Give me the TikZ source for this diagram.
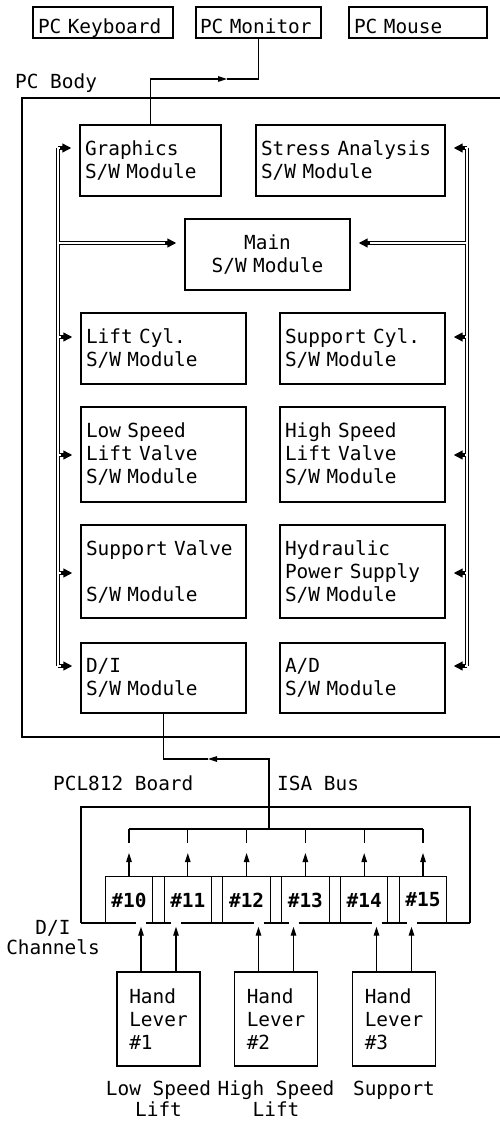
\documentclass[tikz,border=0pt]{standalone}
\usepackage{fontspec}
\usetikzlibrary{arrows.meta,positioning}
\newfontfamily\mono{DejaVu Sans Mono}
\newcommand\dfont{\mono\fontsize{19.4}{23}\selectfont}
\newcommand\chfont{\mono\bfseries\fontsize{19.4}{23}\selectfont}

\tikzset{
  wire/.style={line width=1.1pt},
  swbox/.style={draw, line width=1.2pt, font=\dfont, align=left, inner xsep=5pt, inner ysep=0pt},
  pcbox/.style={swbox, text height=27pt, text depth=4pt},
  txt/.style={font=\dfont, inner sep=0pt},
  busout/.style={line width=4pt, line cap=square},
  busin/.style={line width=1.6pt, line cap=square, white},
  busarrow/.style={busout, -{Triangle[length=9pt,width=8.5pt]}, shorten >=8pt},
  busgap/.style={busin, shorten >=19pt},
}

\begin{document}
\begin{tikzpicture}[x=1pt,y=-1pt,>={Triangle[length=9pt,width=5.5pt]}]
    \useasboundingbox (0,0) rectangle (500,1123);
    % PC peripherals
    \node[pcbox,text width=130pt] (kbd) at (103,22.5) {PC Keyboard};
    \node[pcbox,inner xsep=4pt,text width=117pt] (mon) at (258.5,22.5) {PC Monitor};
    \node[pcbox,text width=128pt] (mouse) at (418,22.5) {PC Mouse};
    \node[txt,anchor=west] (body) at (15,83) {PC Body};
    % PC body
    \draw[line width=1.8pt] (500,98) -- (22,98) -- (22,737) -- (500,737);
    % S/W modules
    \node[swbox,text width=131pt,minimum height=71pt] (graph) at (150.5,160.5) {Graphics\\S/W Module};
    \node[swbox,text width=179pt,minimum height=71pt] (stress) at (350.5,160.5) {Stress Analysis\\S/W Module};
    \node[swbox,align=center,text width=155pt,minimum height=71pt] (main) at (267.5,254.5) {Main\\S/W Module};
    \node[swbox,text width=155pt,minimum height=71pt] (lift) at (163.5,348.5) {Lift Cyl.\\S/W Module};
    \node[swbox,text width=155pt,minimum height=71pt] (suppcyl) at (362.5,348.5) {Support Cyl.\\S/W Module};
    \node[swbox,text width=155pt,minimum height=95pt] (lowsp) at (163.5,454.5) {Low Speed\\Lift Valve\\S/W Module};
    \node[swbox,text width=155pt,minimum height=95pt] (highsp) at (362.5,454.5) {High Speed\\Lift Valve\\S/W Module};
    \node[swbox,text width=155pt,minimum height=93pt] (suppv) at (163.5,571.5) {Support Valve\\\mbox{}\\S/W Module};
    \node[swbox,text width=155pt,minimum height=93pt] (hyd) at (362.5,571.5) {Hydraulic\\Power Supply\\S/W Module};
    \node[swbox,text width=155pt,minimum height=70pt] (di) at (163.5,678) {D/I\\S/W Module};
    \node[swbox,text width=155pt,minimum height=70pt] (ad) at (362.5,678) {A/D\\S/W Module};
    % graphics to monitor
    \coordinate (monin) at (227,79);
    \draw[wire,->] (graph.north) |- (monin);
    \draw[wire] (monin) -| (mon.south);
    % internal buses
    \coordinate (lg) at (58,148);  \coordinate (rg) at (467,148);
    \coordinate (lm) at (58,243);  \coordinate (rm) at (467,243);
    \coordinate (ll) at (58,337);  \coordinate (rl) at (467,337);
    \coordinate (lh) at (58,455);  \coordinate (rh) at (467,455);
    \coordinate (lv) at (58,573);  \coordinate (rv) at (467,573);
    \coordinate (ld) at (58,666);  \coordinate (rd) at (467,666);
    \foreach \pass/\stub in {busout/busarrow,busin/busgap}{
        \draw[\pass] (lg) -- (ld);
        \draw[\pass] (rg) -- (rd);
        \foreach \c/\n in {lg/graph,lm/main,ll/lift,lh/lowsp,lv/suppv,ld/di}
            \draw[\stub] (\c) -- (\c -| \n.west);
        \foreach \c/\n in {rg/stress,rm/main,rl/suppcyl,rh/highsp,rv/hyd,rd/ad}
            \draw[\stub] (\c) -- (\c -| \n.east);
    }
    % PCL812 board
    \node[txt,anchor=west] (board) at (53,783) {PCL812 Board};
    \node[txt,anchor=west] (isa) at (277,783) {ISA Bus};
    \draw[wire] (81,923) -- (81,807) -- (470,807) -- (470,923);
    \foreach \a/\b in {81/136,146/171,181/253.5,263.5/288.5,298.5/371.5,381.5/406.5,416.5/470}
        \draw[wire] (\a,923) -- (\b,923);
    \foreach \c [count=\i from 0] in {10,...,15}{
        \node[font=\chfont,minimum width=47pt,minimum height=46pt,inner sep=0pt] (ch\c) at (129+58.8*\i,900) {\#\c};
        \draw[wire] (ch\c.south west) -- (ch\c.north west) -- (ch\c.north east) -- (ch\c.south east);
    }
    \draw[wire] (ch10.north west) -- (ch15.north east);
    % ISA bus
    \coordinate (isab) at (269,829);
    \coordinate (dij) at (208,759);
    \draw[wire,->] (isab) |- (dij);
    \draw[wire] (dij) -| (di.south);
    \draw[wire] (ch10.north |- isab) -- (ch15.north |- isab);
    \foreach \c in {10,...,15}{
        \draw[wire] (ch\c.north |- isab) -- ++(0,14);
        \draw[wire,->,shorten >=24pt] (ch\c.north) -- (ch\c.north |- isab);
    }
    \node[txt,align=center,font=\mono\fontsize{19.4}{20}\selectfont] (dich) at (53,938) {D/I\\Channels};
    % hand levers
    \node[swbox,minimum width=83pt,minimum height=94pt] (hl1) at (158.5,1019) {Hand\\Lever\\\#1};
    \node[swbox,minimum width=83pt,minimum height=94pt] (hl2) at (276,1019) {Hand\\Lever\\\#2};
    \node[swbox,minimum width=83pt,minimum height=94pt] (hl3) at (394,1019) {Hand\\Lever\\\#3};
    \node[txt,align=center,font=\mono\fontsize{19.4}{20.5}\selectfont,below=14pt of hl1] (lsl) {Low Speed\\Lift};
    \node[txt,align=center,font=\mono\fontsize{19.4}{20.5}\selectfont,below=14pt of hl2] (hsl) {High Speed\\Lift};
    \node[txt,align=center,below=14pt of hl3] (sup) {Support};
    \foreach \h/\a/\b in {hl1/ch10/ch11,hl2/ch12/ch13,hl3/ch14/ch15}{
        \coordinate (\h l) at ([xshift=-17.5pt]\h.north);
        \coordinate (\h r) at ([xshift=17.5pt]\h.north);
        \draw[wire,->,shorten >=3.5pt] (\h l) -- (\h l |- \a.south);
        \draw[wire,->,shorten >=3.5pt] (\h r) -- (\h r |- \b.south);
    }
\end{tikzpicture}
\end{document}
